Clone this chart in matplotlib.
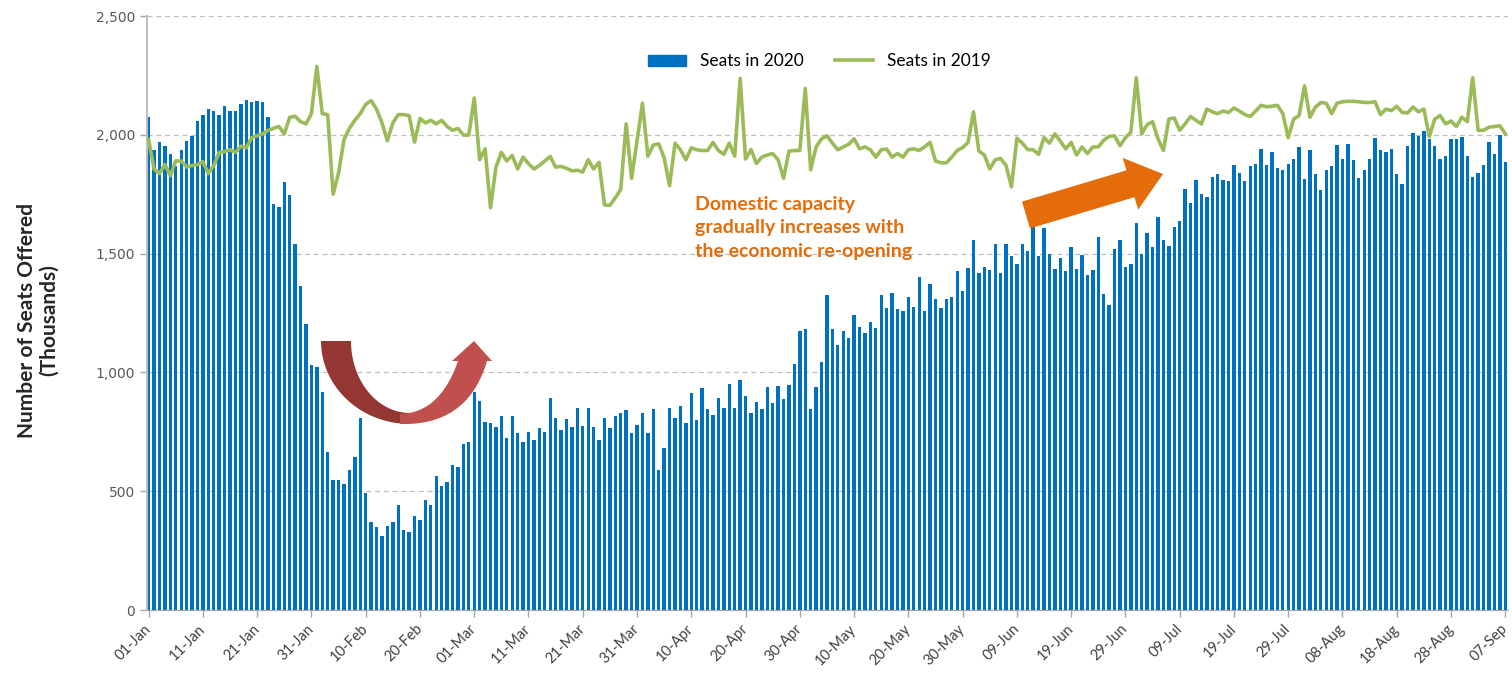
import numpy as np
import pandas as pd
import matplotlib
matplotlib.use("Agg")
from matplotlib import pyplot as plt
from matplotlib.patches import Polygon, Patch
from matplotlib.lines import Line2D

# seats offered (thousands), one value per day, 01-Jan .. 07-Sep
seats_2020_jan = [2074, 1937, 1971, 1954, 1920, 1870, 1937, 1976, 1993, 2058, 2085, 2110, 2100, 2085, 2120, 2100,
                  2100, 2131, 2148, 2139, 2144, 2136, 2074, 1708, 1697, 1801, 1747, 1540, 1363, 1202, 1031]
seats_2020_feb = [1022, 918, 663, 549, 549, 530, 591, 646, 810, 492, 370, 350, 311, 353, 370, 440, 336, 327, 394,
                  378, 464, 440, 565, 521, 538, 611, 600, 700, 705]
seats_2020_mar = [919, 880, 793, 786, 770, 818, 725, 818, 744, 708, 748, 716, 767, 748, 891, 810, 759, 803, 770,
                  852, 775, 849, 770, 717, 806, 767, 818, 829, 842, 744, 778]
seats_2020_apr = [829, 744, 845, 588, 681, 852, 806, 857, 786, 915, 798, 935, 845, 821, 891, 852, 951, 852, 966,
                  899, 829, 876, 848, 938, 871, 943, 888, 946, 1036, 1175]
seats_2020_may = [1181, 845, 938, 1044, 1327, 1181, 1115, 1176, 1146, 1241, 1193, 1167, 1213, 1187, 1327, 1273,
                  1335, 1265, 1257, 1316, 1277, 1400, 1260, 1374, 1307, 1273, 1311, 1316, 1425, 1343, 1441]
seats_2020_jun = [1557, 1420, 1444, 1431, 1542, 1417, 1542, 1490, 1455, 1540, 1511, 1615, 1490, 1607, 1498, 1436,
                  1483, 1428, 1526, 1436, 1494, 1411, 1433, 1568, 1330, 1285, 1518, 1556, 1444, 1456]
seats_2020_jul = [1627, 1498, 1587, 1526, 1654, 1557, 1534, 1610, 1638, 1770, 1713, 1809, 1752, 1739, 1822, 1833,
                  1809, 1806, 1875, 1840, 1806, 1868, 1879, 1942, 1875, 1926, 1861, 1853, 1876, 1899, 1949]
seats_2020_aug = [1814, 1934, 1834, 1767, 1851, 1868, 1957, 1898, 1962, 1893, 1819, 1853, 1898, 1987, 1934, 1929,
                  1940, 1837, 1794, 1954, 2007, 1996, 2014, 1983, 1954, 1898, 1910, 1983, 1983, 1992, 1910]
seats_2020_sep = [1822, 1840, 1871, 1969, 1918, 2001, 1884]

seats_2019_jan = [1980, 1856, 1837, 1875, 1828, 1890, 1890, 1864, 1871, 1875, 1887, 1837, 1871, 1926, 1929, 1937,
                  1926, 1952, 1945, 1988, 1996, 2004, 2018, 2027, 2035, 2004, 2074, 2078, 2055, 2046, 2089]
seats_2019_feb = [2288, 2089, 2085, 1750, 1840, 1980, 2027, 2061, 2089, 2128, 2144, 2108, 2050, 1975, 2050, 2085,
                  2085, 2081, 1969, 2069, 2050, 2061, 2046, 2061, 2035, 2019, 2027, 1999, 1999]
seats_2019_mar = [2155, 1895, 1941, 1693, 1864, 1926, 1890, 1913, 1856, 1906, 1879, 1856, 1871, 1890, 1909, 1864,
                  1867, 1859, 1848, 1851, 1843, 1895, 1856, 1884, 1705, 1703, 1735, 1770, 2046, 1817, 1975]
seats_2019_apr = [2133, 1910, 1957, 1962, 1903, 1786, 1965, 1937, 1895, 1945, 1937, 1934, 1934, 1968, 1934, 1918,
                  1965, 1910, 2237, 1898, 1938, 1879, 1906, 1915, 1921, 1895, 1817, 1931, 1934, 1934]
seats_2019_may = [2195, 1853, 1949, 1983, 1996, 1965, 1937, 1949, 1960, 1983, 1941, 1949, 1937, 1906, 1937, 1940,
                  1906, 1921, 1906, 1937, 1941, 1934, 1949, 1968, 1890, 1882, 1882, 1906, 1934, 1946, 1968]
seats_2019_jun = [2097, 1931, 1915, 1856, 1895, 1900, 1871, 1781, 1985, 1965, 1938, 1937, 1918, 1988, 1965, 2004,
                  1973, 1941, 1968, 1915, 1949, 1921, 1949, 1949, 1977, 1993, 1996, 1954, 1988, 2011]
seats_2019_jul = [2240, 2004, 2043, 2055, 1983, 1934, 2066, 2071, 2019, 2046, 2077, 2061, 2046, 2108, 2097, 2089,
                  2100, 2094, 2113, 2100, 2085, 2077, 2100, 2124, 2118, 2120, 2124, 2089, 1988, 2066, 2081]
seats_2019_aug = [2206, 2074, 2116, 2136, 2133, 2089, 2133, 2139, 2141, 2141, 2139, 2136, 2136, 2139, 2085, 2108,
                  2102, 2120, 2094, 2092, 2117, 2097, 2108, 1993, 2066, 2081, 2046, 2058, 2035, 2074, 2055]
seats_2019_sep = [2240, 2019, 2019, 2032, 2035, 2038, 2004]

seats_2020 = (seats_2020_jan + seats_2020_feb + seats_2020_mar + seats_2020_apr + seats_2020_may
              + seats_2020_jun + seats_2020_jul + seats_2020_aug + seats_2020_sep)
seats_2019 = (seats_2019_jan + seats_2019_feb + seats_2019_mar + seats_2019_apr + seats_2019_may
              + seats_2019_jun + seats_2019_jul + seats_2019_aug + seats_2019_sep)

days = pd.date_range("2020-01-01", "2020-09-07", freq="D")
day_labels = [d.strftime("%d-%b") for d in days]

W, H = 1512, 678
fig = plt.figure(figsize=(W / 100, H / 100), dpi=100)
ax = fig.add_axes([147 / W, 1 - 610 / H, (1508 - 147) / W, (610 - 16) / H])

x = np.arange(len(days))
ax.bar(x, seats_2020, width=0.62, color="#0070C0", zorder=2)
ax.plot(x, seats_2019, color="#9BBB59", lw=2.6, zorder=3, solid_joinstyle="round")

ax.set_xlim(-0.3, len(days) - 0.5)
ax.set_ylim(0, 2500)
ax.set_yticks(range(0, 2501, 500))
ax.set_yticklabels([f"{v:,}" for v in range(0, 2501, 500)], fontsize=10, color="#595959")
ax.yaxis.grid(True, color="#BFBFBF", lw=0.9, ls=(0, (4, 3)), zorder=0)
ax.set_xticks(x[::10])
ax.set_xticklabels(day_labels[::10], rotation=45, ha="right", va="center", rotation_mode="anchor",
                   fontsize=10.5, color="#404040", family=["Lato", "DejaVu Sans"])
ax.tick_params(axis="both", color="#A6A6A6", length=5, width=1)
ax.tick_params(axis="x", pad=7)
for s in ["top", "right"]:
    ax.spines[s].set_visible(False)
ax.spines["left"].set_color("#BFBFBF")
ax.spines["left"].set_linewidth(1.5)
ax.spines["bottom"].set_color("#A6A6A6")

fig.text(38 / W, 1 - 320 / H, "Number of Seats Offered\n(Thousands)", rotation=90, ha="center", va="center",
         fontsize=15, weight="bold", color="#262626", family=["Lato", "DejaVu Sans"],
         linespacing=1.15)

handles = [Patch(color="#0070C0"), Line2D([], [], color="#9BBB59", lw=2.6)]
ax.legend(handles, ["Seats in 2020", "Seats in 2019"], loc="center", bbox_to_anchor=(0.494, 0.924),
          ncol=2, frameon=False, handlelength=2.2, handleheight=0.6, columnspacing=1.8,
          prop={"family": ["Lato", "DejaVu Sans"], "size": 12.5})

fig.text(695 / W, 1 - 196 / H, "Domestic capacity\ngradually increases with\nthe economic re-opening",
         ha="left", va="top", fontsize=14, weight="bold", color="#E46C0A",
         family=["Lato", "DejaVu Sans"], linespacing=1.45)


def to_fig(pts):
    pts = np.asarray(pts, dtype=float)
    return np.column_stack([pts[:, 0] / W, 1 - pts[:, 1] / H])


def bez(p0, c, p2, n=30):
    t = np.linspace(0, 1, n)[:, None]
    p0, c, p2 = map(np.asarray, (p0, c, p2))
    return (1 - t) ** 2 * p0 + 2 * (1 - t) * t * c + t ** 2 * p2


# curved U arrow (dip and rebound)
th = np.linspace(0, np.pi / 2, 40)
outer = np.column_stack([410 - 89 * np.cos(th), 341 + 83 * np.sin(th)])
inner = np.column_stack([410 - 59 * np.cos(th), 341 + 72 * np.sin(th)])[::-1]
fig.patches.append(Polygon(to_fig(np.vstack([outer, inner])), closed=True, transform=fig.transFigure,
                           facecolor="#943634", edgecolor="none", zorder=5))
right_outer = bez((400, 424), (468, 426), (487, 361))
head = np.array([[492, 361], [474, 341], [452, 361]])
right_inner = bez((458, 361), (440, 413), (400, 414))
fig.patches.append(Polygon(to_fig(np.vstack([right_outer, head, right_inner])), closed=True,
                           transform=fig.transFigure, facecolor="#C0504D", edgecolor="none", zorder=5))

# straight orange arrow
T = np.array([1026.0, 215.0])
P = np.array([1163.0, 174.0])
u = (P - T) / np.linalg.norm(P - T)
nrm = np.array([-u[1], u[0]])
B = P - 34 * u
arrow_pts = [T - 14 * nrm, B - 14 * nrm, B - 27 * nrm, P, B + 27 * nrm, B + 14 * nrm, T + 14 * nrm]
fig.patches.append(Polygon(to_fig(arrow_pts), closed=True, transform=fig.transFigure,
                           facecolor="#E46C0A", edgecolor="none", zorder=5))

fig.savefig("out.png", dpi=100)
